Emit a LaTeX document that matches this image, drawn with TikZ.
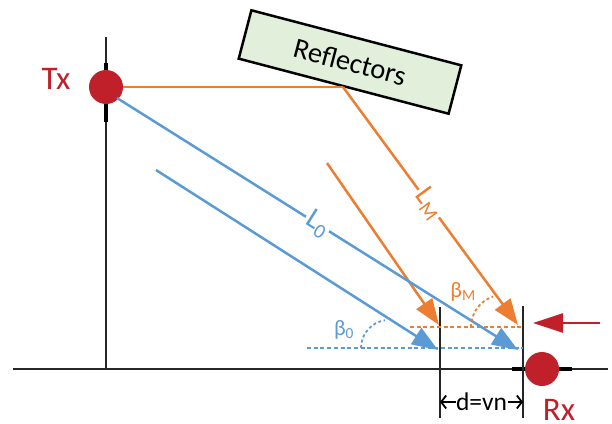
\documentclass[tikz,border=0pt]{standalone}
\usepackage{fontspec}
\setmainfont{Carlito}
\usetikzlibrary{positioning,arrows.meta}
\definecolor{rayblue}{HTML}{5B9BD5}
\definecolor{rayorange}{HTML}{ED7D31}
\definecolor{antred}{HTML}{C0202A}
\definecolor{boxgreen}{HTML}{E2EFDA}

\begin{document}
\begin{tikzpicture}[x=1pt, y=-1pt, >=Latex,
  axis/.style={line width=2.2pt, black!85},
  mark line/.style={line width=3.6pt, black},
  ant/.style={circle, fill=antred, minimum size=34pt, inner sep=0pt},
  ray/.style={line width=2.5pt},
  tip/.style={-{Triangle[length=26pt, width=19pt]}},
  hint/.style={line width=1.8pt, dash pattern=on 4pt off 2.7pt},
  angmark/.style={line width=1.8pt, dash pattern=on 3pt off 2.5pt},
  big/.style={font=\fontsize{33}{33}\selectfont, text=antred, inner sep=0pt},
  raylabel/.style={sloped, fill=white, inner sep=2pt, font=\fontsize{29}{29}\selectfont}]
  \useasboundingbox (0,0) rectangle (612,423);

  % axes and receiver window
  \draw[axis] (13,369) -- (608,369);
  \draw[axis] (106,37) -- (106,369);
  \draw[mark line] (106,63) -- (106,122);
  \draw[mark line] (512,369) -- (572,369);
  \draw[axis] (440,307) -- (440,418);
  \draw[axis] (523,306) -- (523,418);

  % antennas
  \node[ant] (tx) at (106,87) {};
  \node[ant] (rx) at (542,369) {};
  \node[big] (txlabel) at (56,79) {Tx};
  \node[big] (rxlabel) at (559,410) {Rx};

  % reflectors
  \node[draw, line width=2.5pt, fill=boxgreen, rotate=-14.7, minimum width=217pt, minimum height=50pt,
        font=\fontsize{28.5}{28.5}\selectfont] (refl) at (350,62) {Reflectors};

  \coordinate (corner) at (343,87);
  \coordinate (tipM) at (518,325);
  \coordinate (startM) at (327,163);
  \coordinate (tipM2) at (439,325);
  \coordinate (start0) at (117,98);
  \coordinate (tip0) at (518,350);
  \coordinate (start02) at (156,170);
  \coordinate (tip02) at (438,350);

  % reference lines
  \draw[hint, rayblue] (307,348) -- (523,348);
  \draw[hint, rayorange] (410,327) -- (523,327);

  % rays
  \draw[ray, rayorange] (tx.east) -- (corner);
  \draw[ray, rayorange, tip] (corner) -- node[raylabel, pos=0.49, text=rayorange] (lm) {L\textsubscript{M}} (tipM);
  \draw[ray, rayorange, tip] (startM) -- (tipM2);
  \draw[ray, rayblue, tip] (start0) -- node[raylabel, pos=0.5, text=rayblue] (l0) {L\textsubscript{0}} (tip0);
  \draw[ray, rayblue, tip] (start02) -- (tip02);

  % angles
  \draw[angmark, rayblue] (361,348) arc[start angle=180, end angle=262, radius=28];
  \node[text=rayblue, font=\fontsize{22}{22}\selectfont] (b0) at (344,330) {β\textsubscript{0}};
  \draw[angmark, rayorange] (471,327) arc[start angle=180, end angle=252, radius=32];
  \node[text=rayorange, font=\fontsize{22}{22}\selectfont] (bm) at (463,292) {β\textsubscript{M}};

  % incoming arrow and spacing
  \coordinate (inc) at (600,323);
  \coordinate (inctip) at (533,323);
  \draw[line width=2.7pt, antred, -{Triangle[length=30pt, width=19pt]}] (inc) -- (inctip);
  \draw[line width=1.8pt, {Straight Barb[length=5pt, width=13pt]}-{Straight Barb[length=5pt, width=13pt]}]
    (440,402) -- node[fill=white, inner sep=0.5pt, font=\fontsize{25.5}{25.5}\selectfont] (dist) {d=vn} (523,402);
\end{tikzpicture}
\end{document}
